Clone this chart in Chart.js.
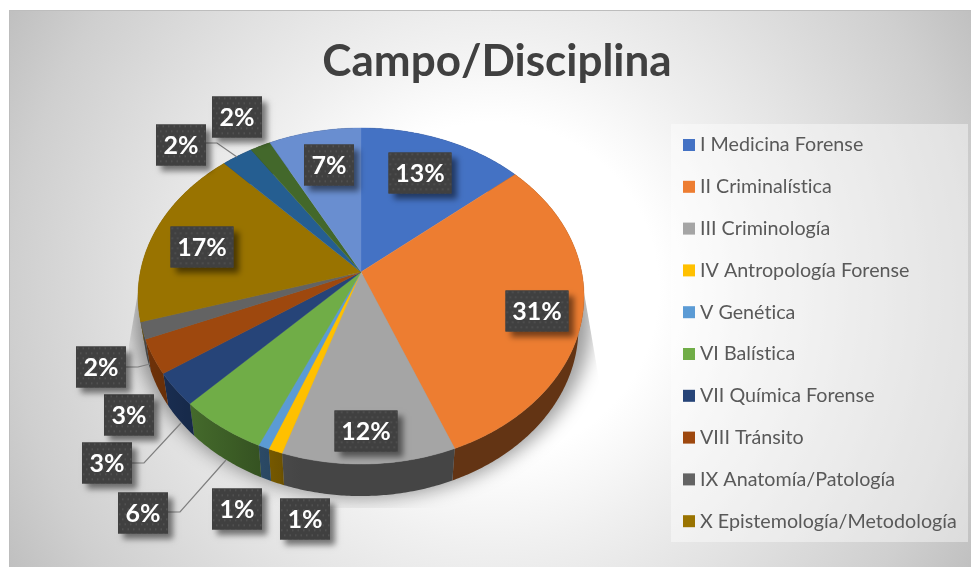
<!DOCTYPE html>
<html><head><meta charset="utf-8">
<style>html,body{margin:0;padding:0;background:#fff;overflow:hidden}#w{position:absolute;left:0;top:0;width:971px;height:567px}</style>
<script src="https://cdn.jsdelivr.net/npm/chart.js@4"></script>
</head><body><div id="w"><canvas id="c" width="971" height="567"></canvas></div>
<script>
const categories = ['I Medicina Forense','II Criminalística','III Criminología','IV Antropología Forense','V Genética','VI Balística','VII Química Forense','VIII Tránsito','IX Anatomía/Patología','X Epistemología/Metodología','XI','XII','XIII'];
const shares = [13.8,30.2,11.0,0.9,0.7,5.65,3.15,3.3,1.6,17.7,2.6,1.7,7.7];
const percentLabels = ['13%','31%','12%','1%','1%','6%','3%','3%','2%','17%','2%','2%','7%'];
const colors = ['#4472C4','#ED7D31','#A5A5A5','#FFC000','#5B9BD5','#70AD47','#264478','#9E480E','#636363','#997300','#255E91','#43682B','#698ED0'];
const legendCount = 10;
const titleText = 'Campo/Disciplina';

// layout only (label box centres and leader polylines)
const labelCentres = [[420,173],[537,311],[366,431],[305,519],[237,509],[143,513],[107,463],[129,415],[101,367],[202,247],[181,145],[237,117],[329,165]];
const leaders = [[[126,367],[138,367],[150,364]],[[132,463],[144,463],[181,423]],[[168,512],[180,512],[226,460]],[[206,143],[217,143],[237,157]]];

const P = {cx:361,cy:272,R:220.7,Ry:164.6,k:-0.1429,depth:32,taper:0.025};
const proj = a => { const u=Math.cos(a),v=Math.sin(a),d=1+P.k*v; return [P.cx+P.R*u/d, P.cy+P.Ry*v/d]; };
const low = p => [p[0]-(p[0]-P.cx)*P.taper, p[1]+P.depth];
const shade = (hex,f) => { const n=parseInt(hex.slice(1),16); return `rgb(${((n>>16)&255)*f|0},${((n>>8)&255)*f|0},${(n&255)*f|0})`; };
const wallF = x => { const t=(x-138)/446; return t<0.32 ? 0.72-(t/0.32)*0.28 : 0.42; };

let dotPattern=null;
function getPattern(ctx){
  if(dotPattern) return dotPattern;
  const t=document.createElement('canvas'); t.width=11; t.height=10;
  const g=t.getContext('2d'); g.fillStyle='#404040'; g.fillRect(0,0,11,10);
  g.fillStyle='#565656'; [[1,1],[6.5,1],[4,6],[9.5,6]].forEach(p=>g.fillRect(p[0],p[1],1.5,1.5));
  return dotPattern=ctx.createPattern(t,'repeat');
}

const scene = {
  id:'scene',
  afterLayout(chart){ const t=chart.titleBlock; t.left=24; t.right=970; },
  beforeDraw(chart){
    const c=chart.ctx; c.save();
    c.fillStyle='#fff'; c.fillRect(0,0,971,567);
    const g=c.createRadialGradient(492,289,0,492,289,555);
    g.addColorStop(0,'#ffffff'); g.addColorStop(0.3,'#ffffff'); g.addColorStop(0.46,'#f0f0f0');
    g.addColorStop(0.865,'#cfcfcf'); g.addColorStop(1,'#c0c0c0');
    c.fillStyle=g; c.fillRect(9,10,962,557);
    c.strokeStyle='#bdbdbd'; c.lineWidth=1; c.beginPath(); c.moveTo(9.5,567); c.lineTo(9.5,10.5); c.lineTo(971,10.5); c.stroke();
    c.fillStyle='rgba(255,255,255,0.42)'; c.fillRect(671,124,297,418);
    c.restore();
  },
  beforeDatasetsDraw(chart){
    const c=chart.ctx, arcs=chart.getDatasetMeta(0).data;
    // pie shadow
    c.save();
    c.beginPath(); c.moveTo(141,275); c.lineTo(581,275); c.lineTo(600,385); c.lineTo(600,508); c.lineTo(128,508); c.lineTo(129,345); c.closePath(); c.clip();
    c.filter='blur(9px)'; c.fillStyle='rgba(0,0,0,0.38)';
    c.beginPath(); c.ellipse(363,318,229,180,0,0,Math.PI*2); c.fill();
    c.restore();
    // walls
    arcs.forEach((el,i)=>{
      const a0=el.startAngle,a1=el.endAngle,steps=Math.max(4,Math.ceil((a1-a0)/0.01));
      const top=[]; for(let s=0;s<=steps;s++) top.push(proj(a0+(a1-a0)*s/steps));
      const bot=top.map(low).reverse();
      const xs=top.map(p=>p[0]); const xmin=Math.min(...xs)-3,xmax=Math.max(...xs)+3;
      const g=c.createLinearGradient(xmin,0,xmax,0);
      for(let s=0;s<=8;s++){ g.addColorStop(s/8,shade(colors[i],wallF(xmin+(xmax-xmin)*s/8))); }
      c.fillStyle=g;
      c.beginPath(); top.concat(bot).forEach((p,j)=>j?c.lineTo(...p):c.moveTo(...p)); c.closePath(); c.fill();
    });
    // top faces
    arcs.forEach((el,i)=>{
      c.fillStyle=colors[i]; c.strokeStyle=colors[i]; c.lineWidth=0.4;
      c.beginPath(); c.moveTo(P.cx,P.cy);
      const steps=Math.max(4,Math.ceil((el.endAngle-el.startAngle)/0.01));
      for(let s=0;s<=steps;s++) c.lineTo(...proj(el.startAngle+(el.endAngle-el.startAngle)*s/steps));
      c.closePath(); c.fill(); c.stroke();
    });
    return false;
  },
  afterDraw(chart){
    const c=chart.ctx; c.save();
    c.strokeStyle='#7f7f7f'; c.lineWidth=1.2;
    leaders.forEach(l=>{ c.beginPath(); l.forEach((p,i)=>i?c.lineTo(...p):c.moveTo(...p)); c.stroke(); });
    percentLabels.forEach((t,i)=>{
      const w=t.length>2?63:50, h=41, [x,y]=labelCentres[i];
      c.save();
      c.shadowColor='rgba(0,0,0,0.5)'; c.shadowBlur=6; c.shadowOffsetX=5; c.shadowOffsetY=5;
      c.fillStyle='#404040'; c.fillRect(x-w/2,y-h/2,w,h);
      c.restore();
      c.save(); c.translate(x-w/2,y-h/2); c.fillStyle=getPattern(c); c.fillRect(0,0,w,h); c.restore();
      c.fillStyle='#fff'; c.font='bold 25px Lato'; c.textAlign='center'; c.textBaseline='middle';
      c.fillText(t,x,y+1);
    });
    c.font='19.7px Lato'; c.letterSpacing='0.01px'; c.textAlign='left'; c.textBaseline='middle';
    categories.slice(0,legendCount).forEach((name,i)=>{
      const y=145+i*41.8;
      c.fillStyle=colors[i]; c.fillRect(683,y-6,12,12);
      c.fillStyle='#595959'; c.fillText(name,700,y);
    });
    c.restore();
  }
};

new Chart(document.getElementById('c'),{
  type:'pie',
  data:{labels:categories,datasets:[{data:shares,backgroundColor:colors,borderWidth:0}]},
  options:{
    responsive:false,animation:false,rotation:0,
    layout:{padding:{top:0,left:0,right:300,bottom:60}},
    plugins:{
      legend:{display:false},tooltip:{enabled:false},
      title:{display:true,text:titleText,color:'#404040',font:{family:'Lato',size:44,weight:'bold'},padding:{top:35,bottom:8}}
    }
  },
  plugins:[scene]
});
</script></body></html>
